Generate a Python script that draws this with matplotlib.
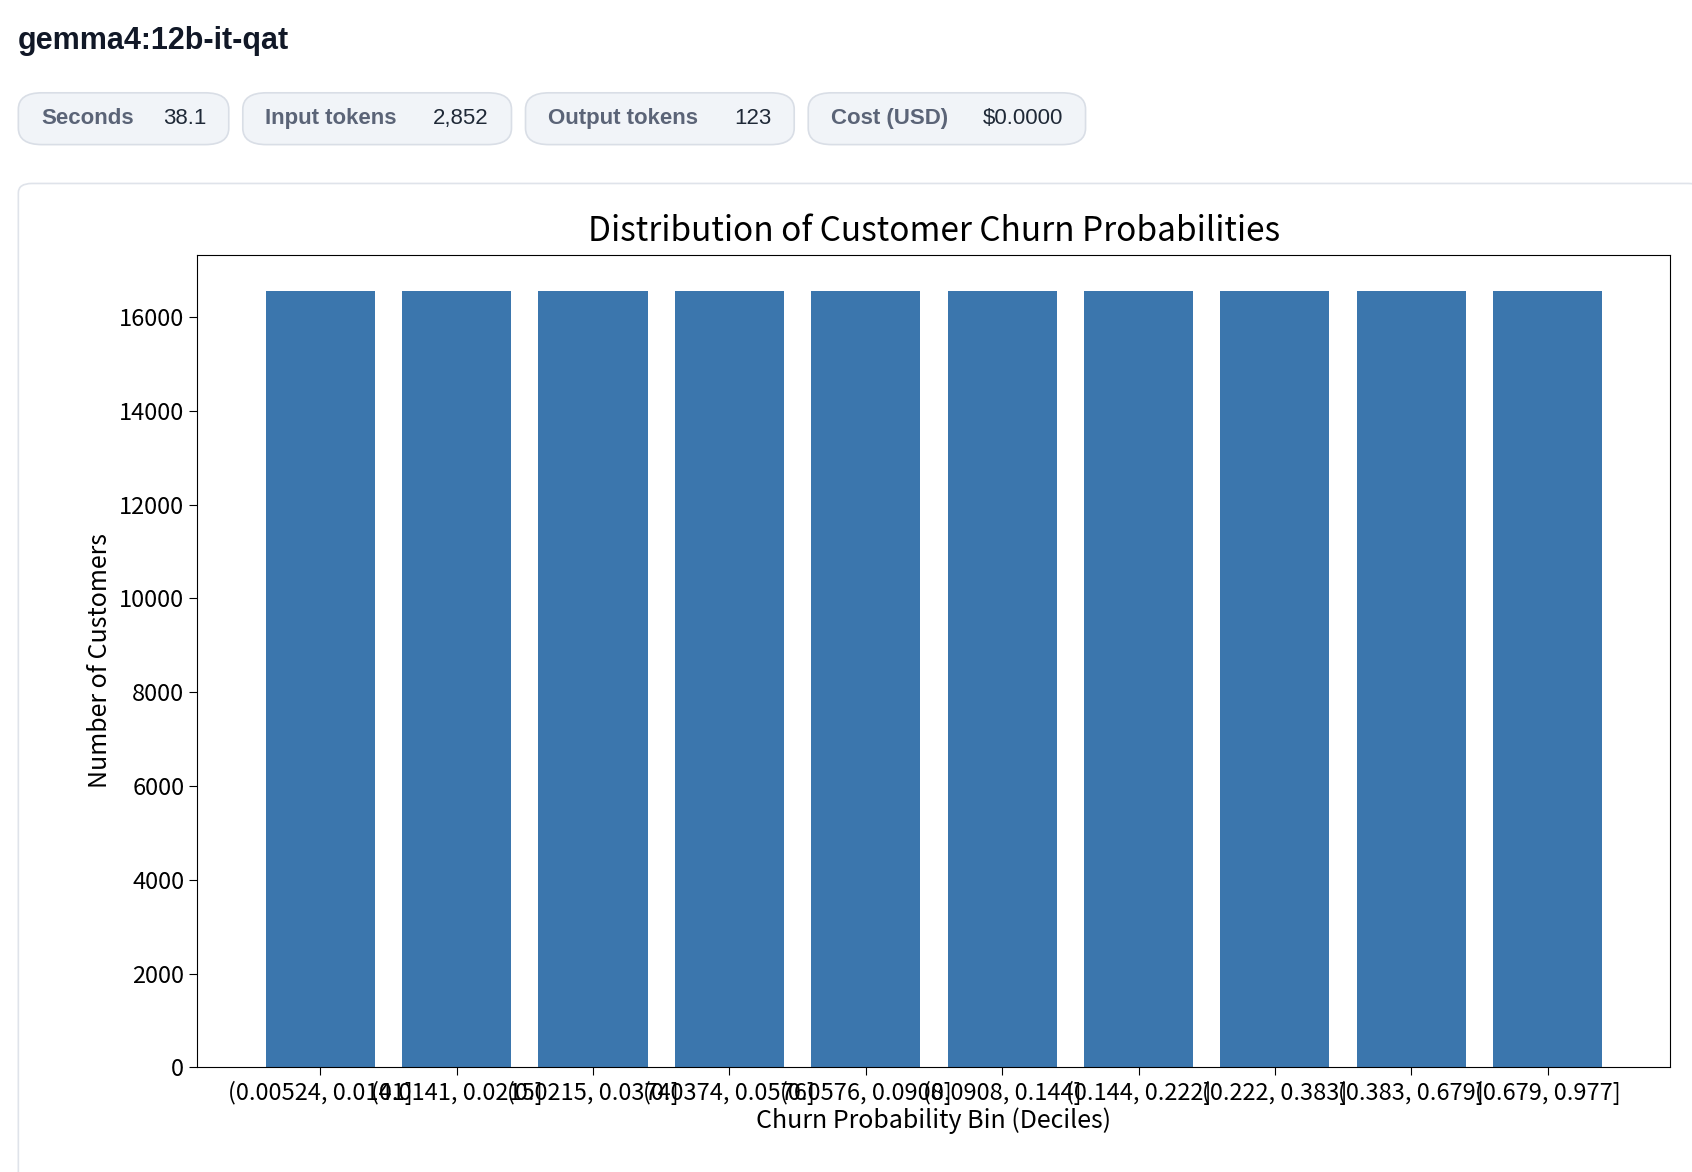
import matplotlib.pyplot as plt
from matplotlib.patches import FancyBboxPatch

plt.rcParams['font.family'] = ['Noto Sans CJK JP', 'DejaVu Sans']

bins = ['(0.00524, 0.0141]', '(0.0141, 0.0215]', '(0.0215, 0.0374]', '(0.0374, 0.0576]',
        '(0.0576, 0.0908]', '(0.0908, 0.144]', '(0.144, 0.222]', '(0.222, 0.383]',
        '(0.383, 0.679]', '(0.679, 0.977]']
counts = [16550] * 10

pill_labels = ['Seconds', 'Input tokens', 'Output tokens', 'Cost (USD)']
pill_values = ['38.1', '2,852', '123', '$0.0000']

W, H = 1568, 1086
fig = plt.figure(figsize=(16.92, 11.72), dpi=100)

def fx(x): return x / W
def fy(y): return 1 - y / H

fig.text(fx(16), fy(38), 'gemma4:12b-it-qat', fontsize=22, fontweight='bold',
         color='#111827', va='center', family=['Liberation Sans', 'DejaVu Sans'])

pill_x = [(17, 212), (225, 474), (487, 736), (749, 1006)]
for (x0, x1), lab, val in zip(pill_x, pill_labels, pill_values):
    fig.patches.append(FancyBboxPatch((fx(x0), fy(134)), fx(x1 - x0), 48 / H,
                       boxstyle='round,pad=0,rounding_size=0.014', transform=fig.transFigure,
                       facecolor='#f1f4f8', edgecolor='#d9dee6', lw=1.2, zorder=-2))
    fig.text(fx(x0 + 21), fy(110), lab, fontsize=16, fontweight='bold', color='#5b6477',
             va='center', family=['Liberation Sans', 'DejaVu Sans'])
    fig.text(fx(x1 - 21), fy(110), val, fontsize=16, color='#1f2937', va='center', ha='right',
             family=['Liberation Sans', 'DejaVu Sans'])

fig.patches.append(FancyBboxPatch((fx(17), fy(1100)), fx(1560), 930 / H,
                   boxstyle='round,pad=0,rounding_size=0.008', transform=fig.transFigure,
                   facecolor='white', edgecolor='#dfe3ea', lw=1.2, zorder=-2))

ax = fig.add_axes([fx(183), fy(989), fx(1548 - 183), (989 - 236) / H])
ax.set_zorder(2)
ax.bar(range(len(bins)), counts, width=0.8, color='#3b76ad')
ax.set_xlim(-0.9, 9.9)
ax.set_ylim(0, 17330)
ax.set_yticks(range(0, 16001, 2000))
ax.set_xticks(range(len(bins)))
ax.set_xticklabels(bins)
ax.tick_params(labelsize=17, length=6)
ax.set_title('Distribution of Customer Churn Probabilities', fontsize=24, pad=10)
ax.set_xlabel('Churn Probability Bin (Deciles)', fontsize=18, labelpad=2)
ax.set_ylabel('Number of Customers', fontsize=18)

fig.savefig('out.png', dpi=100)
